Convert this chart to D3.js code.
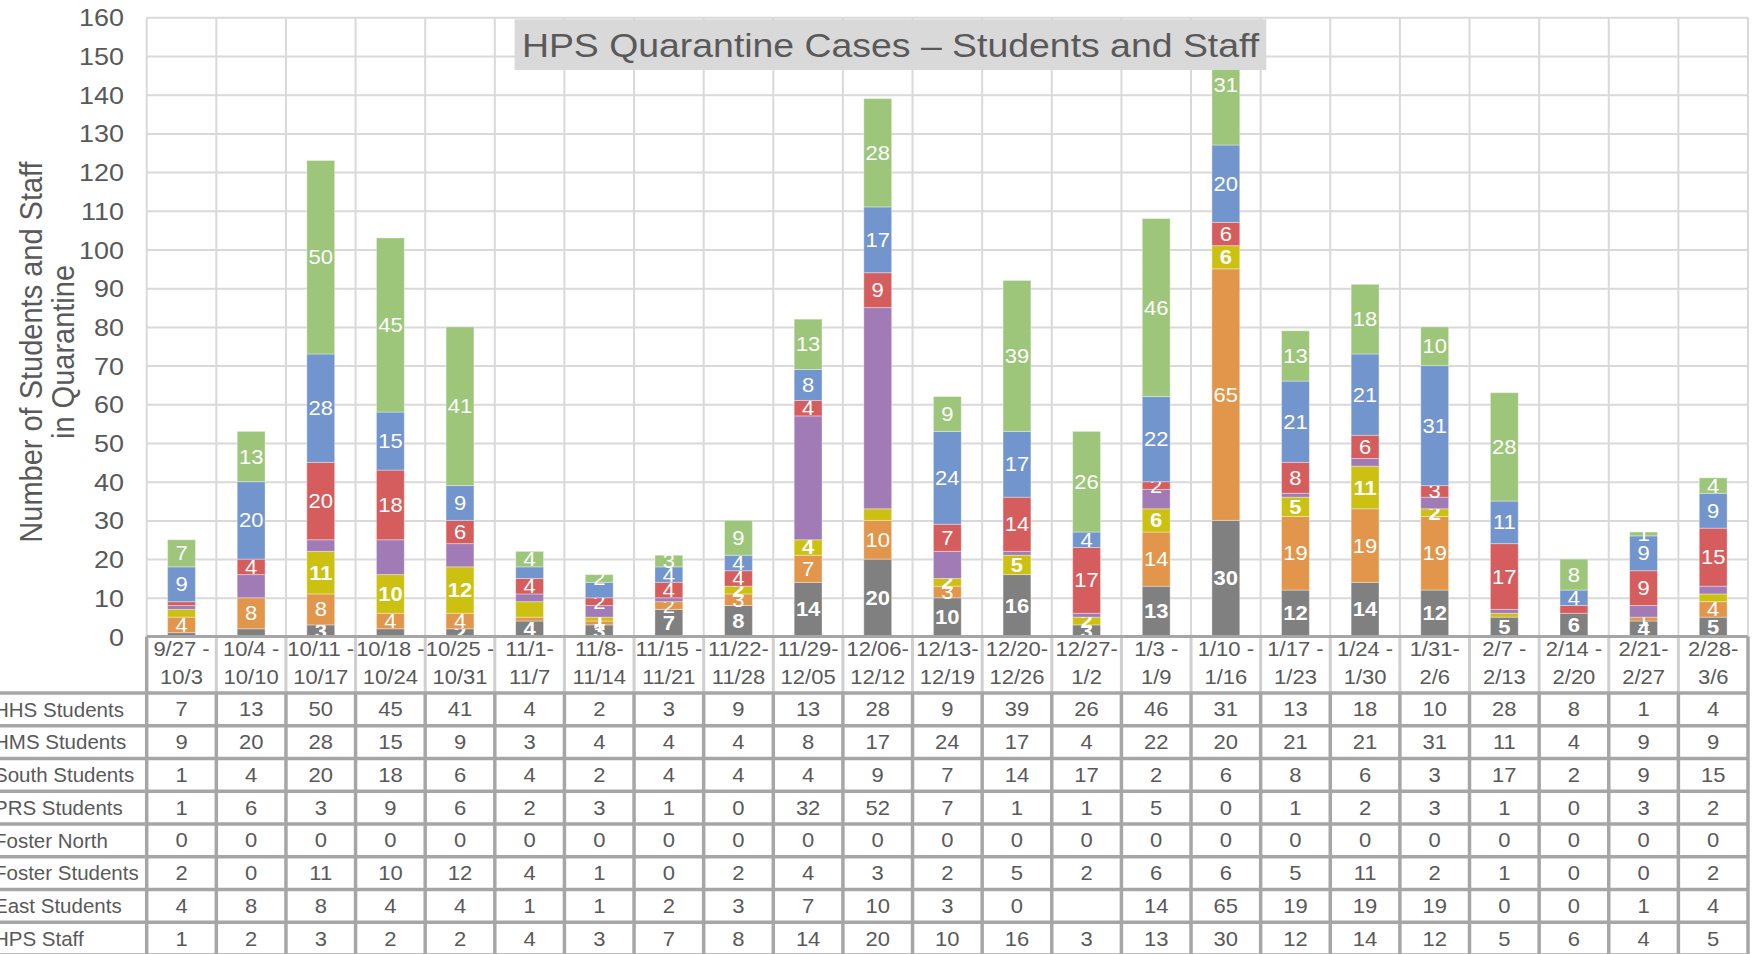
<!DOCTYPE html>
<html>
<head>
<meta charset="utf-8">
<script src="https://cdn.jsdelivr.net/npm/d3@7"></script>
<style>
  html, body { margin: 0; padding: 0; background: #fff; overflow: hidden; }
  svg { display: block; font-family: "Liberation Sans", Arial, sans-serif; }
</style>
</head>
<body>
<script>
// Weekly quarantine counts
const weeks = ['9/27 -|10/3', '10/4 -|10/10', '10/11 -|10/17', '10/18 -|10/24', '10/25 -|10/31',
  '11/1-|11/7', '11/8-|11/14', '11/15 -|11/21', '11/22-|11/28', '11/29-|12/05', '12/06-|12/12',
  '12/13-|12/19', '12/20-|12/26', '12/27-|1/2', '1/3 -|1/9', '1/10 -|1/16', '1/17 -|1/23',
  '1/24 -|1/30', '1/31-|2/6', '2/7 -|2/13', '2/14 -|2/20', '2/21-|2/27', '2/28-|3/6'];

const hhs         = [7, 13, 50, 45, 41, 4, 2, 3, 9, 13, 28, 9, 39, 26, 46, 31, 13, 18, 10, 28, 8, 1, 4];
const hms         = [9, 20, 28, 15, 9, 3, 4, 4, 4, 8, 17, 24, 17, 4, 22, 20, 21, 21, 31, 11, 4, 9, 9];
const south       = [1, 4, 20, 18, 6, 4, 2, 4, 4, 4, 9, 7, 14, 17, 2, 6, 8, 6, 3, 17, 2, 9, 15];
const prs         = [1, 6, 3, 9, 6, 2, 3, 1, 0, 32, 52, 7, 1, 1, 5, 0, 1, 2, 3, 1, 0, 3, 2];
const fosterNorth = [0, 0, 0, 0, 0, 0, 0, 0, 0, 0, 0, 0, 0, 0, 0, 0, 0, 0, 0, 0, 0, 0, 0];
const foster      = [2, 0, 11, 10, 12, 4, 1, 0, 2, 4, 3, 2, 5, 2, 6, 6, 5, 11, 2, 1, 0, 0, 2];
const east        = [4, 8, 8, 4, 4, 1, 1, 2, 3, 7, 10, 3, 0, null, 14, 65, 19, 19, 19, 0, 0, 1, 4];
const staff       = [1, 2, 3, 2, 2, 4, 3, 7, 8, 14, 20, 10, 16, 3, 13, 30, 12, 14, 12, 5, 6, 4, 5];

// table order (top to bottom); bars stack in reverse
const seriesKeys = ['hhs', 'hms', 'south', 'prs', 'fosterNorth', 'foster', 'east', 'staff'];
const seriesNames = ['HHS Students', 'HMS Students', 'South Students', 'PRS Students',
  'Foster North', 'Foster Students', 'East Students', 'HPS Staff'];
const seriesColors = ['#9DC67B', '#7295CD', '#D55D5E', '#A07BB5', '#5BB5C8', '#CCC010', '#E1964B', '#808080'];
const yTicks = [0, 10, 20, 30, 40, 50, 60, 70, 80, 90, 100, 110, 120, 130, 140, 150, 160];

// data labels that the original chart leaves out (week indexes)
const hiddenLabels = { staff: [0, 1, 3], east: [5], foster: [0, 5, 10, 19, 22], south: [0, 20], hms: [5, 6] };
const boldLabels = ['staff', 'foster'];

const seriesData = { hhs, hms, south, prs, fosterNorth, foster, east, staff };
const rows = weeks.map((w, i) => {
  const r = { week: w, idx: i };
  seriesKeys.forEach(k => { r[k] = seriesData[k][i]; });
  return r;
});

// layout
const width = 1754, height = 954;
const SX = 1.1;               // text in the reference is stretched horizontally
const plotL = 146.7, plotR = 1748, plotT = 17.3, plotB = 636.5;
const headB = 693, rowH = 32.76;
const txtColor = '#595959';
const gridColor = '#D9D9D9';
const tableColor = '#A6A6A6';

const svg = d3.select('body').append('svg')
  .attr('width', width)
  .attr('height', height);

const x = d3.scaleBand().domain(weeks).range([plotL, plotR]).padding(0);
const y = d3.scaleLinear().domain([0, 160]).range([plotB, plotT]);
const color = d3.scaleOrdinal().domain(seriesKeys).range(seriesColors);
const barW = x.bandwidth() * 0.4;

// vertical gridlines at category boundaries
svg.append('g')
  .selectAll('line')
  .data(weeks)
  .join('line')
  .attr('x1', d => x(d))
  .attr('x2', d => x(d))
  .attr('y1', plotT)
  .attr('y2', plotB)
  .attr('stroke', gridColor)
  .attr('stroke-width', 2);
svg.append('line')
  .attr('x1', plotR).attr('x2', plotR)
  .attr('y1', plotT).attr('y2', plotB)
  .attr('stroke', gridColor).attr('stroke-width', 2);

// y axis + horizontal gridlines
const yAxis = svg.append('g')
  .attr('transform', `translate(${plotL},0)`)
  .attr('font-size', null)
  .attr('font-family', null)
  .call(d3.axisLeft(y).tickValues(yTicks).tickSize(-(plotR - plotL)).tickFormat(d3.format('d')));
yAxis.select('.domain').remove();
yAxis.selectAll('.tick line').attr('stroke', gridColor).attr('stroke-width', 2);
yAxis.selectAll('.tick text')
  .attr('x', 0)
  .attr('dy', '0.35em')
  .attr('transform', `translate(-22.7,0) scale(${SX},1)`)
  .attr('fill', txtColor)
  .style('font-size', '24.5px');

// y axis title
const yTitle = svg.append('text')
  .attr('transform', `translate(0,352) scale(${SX},1) rotate(-90)`)
  .attr('text-anchor', 'middle')
  .attr('fill', txtColor)
  .style('font-size', '29px');
yTitle.append('tspan').attr('x', 0).attr('y', 42 / SX).text('Number of Students and Staff');
yTitle.append('tspan').attr('x', 0).attr('y', 74 / SX).text('in Quarantine');

// stacked bars
const stacked = d3.stack()
  .keys(seriesKeys.slice().reverse())
  .value((d, k) => d[k] || 0)(rows);

const layers = svg.append('g')
  .selectAll('g')
  .data(stacked)
  .join('g')
  .attr('fill', s => color(s.key));

layers.selectAll('rect')
  .data(s => s)
  .join('rect')
  .attr('x', d => x(d.data.week) + (x.bandwidth() - barW) / 2)
  .attr('y', d => y(d[1]))
  .attr('width', barW)
  .attr('height', d => y(d[0]) - y(d[1]))
  .attr('stroke', 'rgba(255,255,255,0.35)')
  .attr('stroke-width', 1);

// data labels
layers.each(function (s) {
  const key = s.key;
  if (key === 'prs') return;
  const hidden = hiddenLabels[key] || [];
  d3.select(this).selectAll('text')
    .data(s.filter(d => (d.data[key] || 0) > 0 && !hidden.includes(d.data.idx)))
    .join('text')
    .attr('transform', d => `translate(${x(d.data.week) + x.bandwidth() / 2},${y((d[0] + d[1]) / 2)}) scale(${SX},1)`)
    .attr('dy', '0.35em')
    .attr('text-anchor', 'middle')
    .attr('fill', '#fff')
    .style('font-size', '20px')
    .style('font-weight', boldLabels.includes(key) ? 'bold' : 'normal')
    .text(d => d.data[key]);
});

// title
svg.append('rect')
  .attr('x', 514.6).attr('y', 19.3)
  .attr('width', 1266.3 - 514.6).attr('height', 70 - 19.3)
  .attr('fill', '#D9D9D9');
svg.append('text')
  .attr('transform', `translate(890.5,44.7) scale(${SX},1)`)
  .attr('dy', '0.35em')
  .attr('text-anchor', 'middle')
  .attr('fill', txtColor)
  .style('font-size', '34px')
  .text('HPS Quarantine Cases \u2013 Students and Staff');

// data table: category axis as header row
const xAxis = svg.append('g')
  .attr('transform', `translate(0,${plotB})`)
  .attr('font-size', null)
  .attr('font-family', null)
  .call(d3.axisBottom(x).tickSize(0).tickFormat(''));
xAxis.select('.domain').remove();
xAxis.selectAll('.tick text').remove();
xAxis.selectAll('.tick').each(function (d) {
  const parts = d.split('|');
  const t = d3.select(this).append('text')
    .attr('transform', `translate(0,12.3) scale(${SX},1)`)
    .attr('text-anchor', 'middle')
    .attr('fill', txtColor)
    .style('font-size', '20px');
  t.append('tspan').attr('x', 0).attr('dy', '0.35em').text(parts[0]);
  t.append('tspan').attr('x', 0).attr('dy', 28).text(parts[1]);
});

// header separators
const colEdges = weeks.map(w => x(w)).concat([plotR]);
svg.append('g')
  .selectAll('line')
  .data(colEdges.slice(1, -1))
  .join('line')
  .attr('x1', d => d).attr('x2', d => d)
  .attr('y1', plotB).attr('y2', headB)
  .attr('stroke', '#CFCFCF')
  .attr('stroke-width', 3);

// body rows
const rowY = i => headB + rowH * i + rowH / 2;
const table = svg.append('g');
seriesKeys.forEach((k, i) => {
  table.append('text')
    .attr('x', -6)
    .attr('y', rowY(i))
    .attr('dy', '0.35em')
    .attr('fill', txtColor)
    .style('font-size', '20.5px')
    .text(seriesNames[i]);
  table.append('g')
    .selectAll('text')
    .data(rows)
    .join('text')
    .attr('transform', d => `translate(${x(d.week) + x.bandwidth() / 2},${rowY(i)}) scale(${SX},1)`)
    .attr('dy', '0.35em')
    .attr('text-anchor', 'middle')
    .attr('fill', txtColor)
    .style('font-size', '20px')
    .text(d => d[k] == null ? '' : d[k]);
});

// table borders
svg.append('g')
  .selectAll('line')
  .data(d3.range(seriesKeys.length + 1))
  .join('line')
  .attr('x1', 0).attr('x2', plotR)
  .attr('y1', i => headB + rowH * i).attr('y2', i => headB + rowH * i)
  .attr('stroke', tableColor)
  .attr('stroke-width', 3.5);
svg.append('line')
  .attr('x1', plotL).attr('x2', plotR)
  .attr('y1', plotB).attr('y2', plotB)
  .attr('stroke', tableColor)
  .attr('stroke-width', 3);
svg.append('g')
  .selectAll('line')
  .data(colEdges)
  .join('line')
  .attr('x1', d => d).attr('x2', d => d)
  .attr('y1', (d, i) => (i === 0 || i === colEdges.length - 1) ? plotB : headB)
  .attr('y2', height)
  .attr('stroke', tableColor)
  .attr('stroke-width', 3.5);
</script>
</body>
</html>
